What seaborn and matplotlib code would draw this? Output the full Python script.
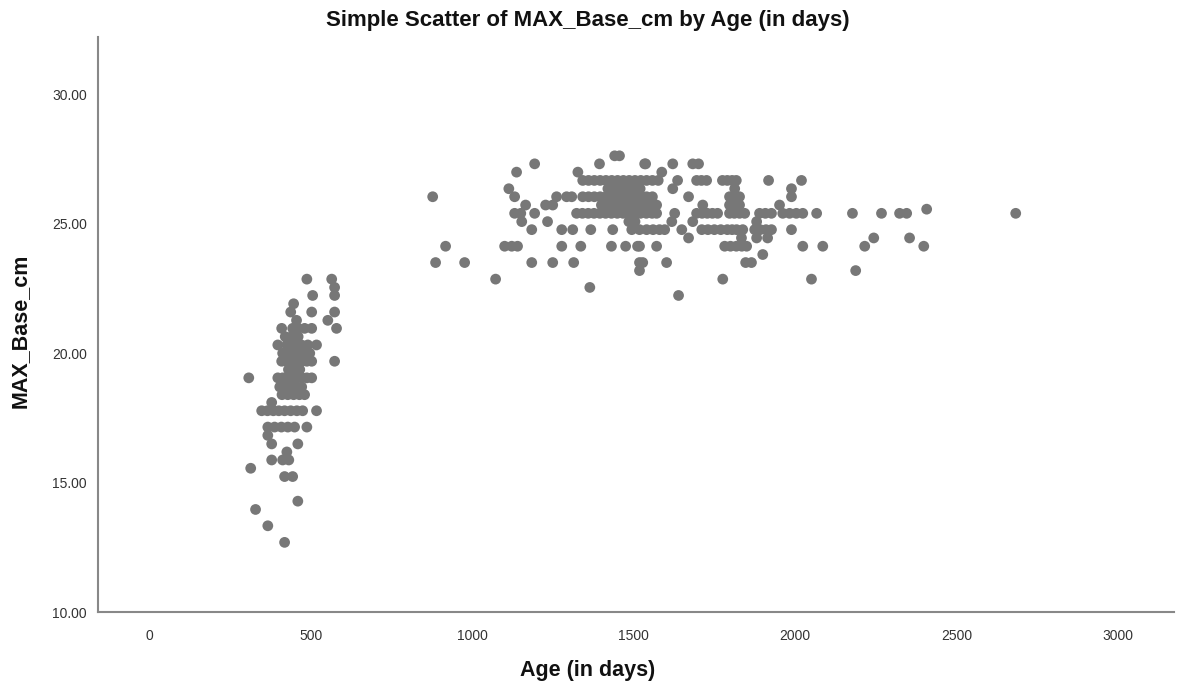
import matplotlib.pyplot as plt
import seaborn as sns
import pandas as pd

# Younger plants (left cluster)
young_age = [487, 564, 573, 573, 505, 446, 437, 502, 573, 552, 455,
             409, 443, 460, 480, 502, 579, 420, 440, 460,
             397, 425, 440, 455, 470, 490, 517,
             412, 430, 445, 460, 478, 496,
             573, 409, 425, 440, 455, 470, 487, 502,
             430, 450, 465,
             307, 397, 412, 427, 442, 457, 472, 487, 502,
             403, 420, 437, 454, 471,
             410, 428, 446, 464, 480,
             378, 347, 365, 383, 400, 418, 437, 456, 474, 517,
             366, 387, 408, 428, 449, 487,
             366, 378, 459, 425, 378, 412, 431, 313, 418, 443,
             459, 328, 366, 418]
young_base = [22.86, 22.86, 22.54, 22.23, 22.23, 21.91, 21.59, 21.59, 21.59, 21.27, 21.27,
              20.96, 20.96, 20.96, 20.96, 20.96, 20.96, 20.64, 20.64, 20.64,
              20.32, 20.32, 20.32, 20.32, 20.32, 20.32, 20.32,
              20.00, 20.00, 20.00, 20.00, 20.00, 20.00,
              19.69, 19.69, 19.69, 19.69, 19.69, 19.69, 19.69, 19.69,
              19.37, 19.37, 19.37,
              19.05, 19.05, 19.05, 19.05, 19.05, 19.05, 19.05, 19.05, 19.05,
              18.70, 18.70, 18.70, 18.70, 18.70,
              18.40, 18.40, 18.40, 18.40, 18.40,
              18.10, 17.78, 17.78, 17.78, 17.78, 17.78, 17.78, 17.78, 17.78, 17.78,
              17.15, 17.15, 17.15, 17.15, 17.15, 17.15,
              16.83, 16.50, 16.50, 16.19, 15.88, 15.88, 15.88, 15.56, 15.24, 15.24,
              14.29, 13.97, 13.34, 12.70]

# Older plants (right cluster)
old_age = [877, 917, 886, 976, 1072, 1137, 1193, 1113, 1131, 1165, 1131, 1150, 1193,
           1153, 1233, 1184, 1227, 1249, 1261, 1292, 1308, 1327, 1394, 1441, 1456, 1534,
           1537, 1587, 1621, 1683, 1701,
           1342, 1360, 1378, 1396, 1414, 1432, 1450, 1468, 1486, 1504, 1522, 1540, 1558, 1576,
           1636, 1695, 1710, 1726, 1775, 1790, 1805, 1818, 1918, 2020,
           1420, 1440, 1460, 1480, 1500, 1520, 1621, 1813, 1989,
           1342, 1360, 1378, 1396, 1414, 1432, 1450, 1468, 1486, 1504, 1522, 1540, 1558,
           1670, 1797, 1812, 1828, 1989,
           1400, 1420, 1440, 1460, 1480, 1500, 1518, 1535, 1553, 1571, 1714, 1797, 1812, 1828, 1952,
           1323, 1341, 1359, 1377, 1395, 1413, 1431, 1449, 1467, 1485, 1503, 1521, 1539, 1557, 1571,
           1627, 1695, 1712, 1728, 1744, 1760, 1797, 1812, 1828, 1844, 1890, 1908, 1927,
           1962, 1983, 2004, 2024, 2067, 2178, 2268, 2324, 2346, 2684, 2408,
           1485, 1504, 1618, 1683, 1881,
           1277, 1311, 1367, 1435, 1494, 1518, 1540, 1560, 1580, 1596, 1649, 1711, 1730, 1750,
           1770, 1790, 1805, 1819, 1838, 1875, 1892, 1910, 1927, 1989,
           1670, 1834, 1881, 1915, 2244, 2355,
           1100, 1122, 1140, 1277, 1336, 1431, 1475, 1512, 1518, 1571, 1782, 1800, 1818, 1835,
           1850, 2024, 2086, 2216, 2399,
           1900, 1184, 1249, 1314, 1518, 1528, 1602, 1847, 1865,
           1518, 2188, 1776, 2051, 1364, 1639]
old_base = [26.04, 24.13, 23.50, 23.50, 22.86, 26.99, 27.31, 26.35, 26.04, 25.72, 25.40, 25.40, 25.40,
            25.08, 25.08, 24.77, 25.72, 25.72, 26.04, 26.04, 26.04, 26.99, 27.31, 27.62, 27.62, 27.31,
            27.31, 26.99, 27.31, 27.31, 27.31,
            26.67, 26.67, 26.67, 26.67, 26.67, 26.67, 26.67, 26.67, 26.67, 26.67, 26.67, 26.67, 26.67, 26.67,
            26.67, 26.67, 26.67, 26.67, 26.67, 26.67, 26.67, 26.67, 26.67, 26.67,
            26.35, 26.35, 26.35, 26.35, 26.35, 26.35, 26.35, 26.35, 26.35,
            26.04, 26.04, 26.04, 26.04, 26.04, 26.04, 26.04, 26.04, 26.04, 26.04, 26.04, 26.04, 26.04,
            26.04, 26.04, 26.04, 26.04, 26.04,
            25.72, 25.72, 25.72, 25.72, 25.72, 25.72, 25.72, 25.72, 25.72, 25.72, 25.72, 25.72, 25.72, 25.72, 25.72,
            25.40, 25.40, 25.40, 25.40, 25.40, 25.40, 25.40, 25.40, 25.40, 25.40, 25.40, 25.40, 25.40, 25.40, 25.40,
            25.40, 25.40, 25.40, 25.40, 25.40, 25.40, 25.40, 25.40, 25.40, 25.40, 25.40, 25.40, 25.40,
            25.40, 25.40, 25.40, 25.40, 25.40, 25.40, 25.40, 25.40, 25.40, 25.40, 25.56,
            25.08, 25.08, 25.08, 25.08, 25.08,
            24.77, 24.77, 24.77, 24.77, 24.77, 24.77, 24.77, 24.77, 24.77, 24.77, 24.77, 24.77, 24.77, 24.77,
            24.77, 24.77, 24.77, 24.77, 24.77, 24.77, 24.77, 24.77, 24.77, 24.77,
            24.45, 24.45, 24.45, 24.45, 24.45, 24.45,
            24.13, 24.13, 24.13, 24.13, 24.13, 24.13, 24.13, 24.13, 24.13, 24.13, 24.13, 24.13, 24.13, 24.13,
            24.13, 24.13, 24.13, 24.13, 24.13,
            23.81, 23.50, 23.50, 23.50, 23.50, 23.50, 23.50, 23.50, 23.50,
            23.19, 23.19, 22.86, 22.86, 22.54, 22.23]

x_ticks = [0, 500, 1000, 1500, 2000, 2500, 3000]
y_ticks = [10, 15, 20, 25, 30]

df = pd.DataFrame({
    'Age (in days)': young_age + old_age,
    'MAX_Base_cm': young_base + old_base,
})

sns.set_style("white")
plt.rcParams['font.family'] = ['Liberation Sans', 'DejaVu Sans']

fig = plt.figure(figsize=(11.78, 6.88), dpi=100)
ax = fig.add_axes([0.083, 0.11, 0.914, 0.836])

sns.scatterplot(data=df, x='Age (in days)', y='MAX_Base_cm', ax=ax,
                color='#777777', s=60, edgecolor='none', linewidth=0)

ax.set_xlim(-161, 3176)
ax.set_ylim(10, 32.2)
ax.set_xticks(x_ticks)
ax.set_yticks(y_ticks)
ax.set_yticklabels([f'{v:.2f}' for v in y_ticks])
ax.tick_params(axis='both', length=0, labelsize=10, colors='#333333', pad=8)
ax.tick_params(axis='x', pad=12)

for side in ['top', 'right']:
    ax.spines[side].set_visible(False)
for side in ['left', 'bottom']:
    ax.spines[side].set_color('#888888')
    ax.spines[side].set_linewidth(1.5)

ax.set_xlabel('Age (in days)', fontsize=15.5, fontweight='bold', color='#111111')
ax.set_ylabel('MAX_Base_cm', fontsize=15.5, fontweight='bold', color='#111111')
ax.xaxis.set_label_coords(0.455, -0.083)
ax.yaxis.set_label_coords(-0.062, 0.49)
fig.suptitle('Simple Scatter of MAX_Base_cm by Age (in days)', fontsize=16,
             fontweight='bold', color='#111111', x=0.499, y=0.97, va='center')

fig.savefig('out.png', dpi=100)
